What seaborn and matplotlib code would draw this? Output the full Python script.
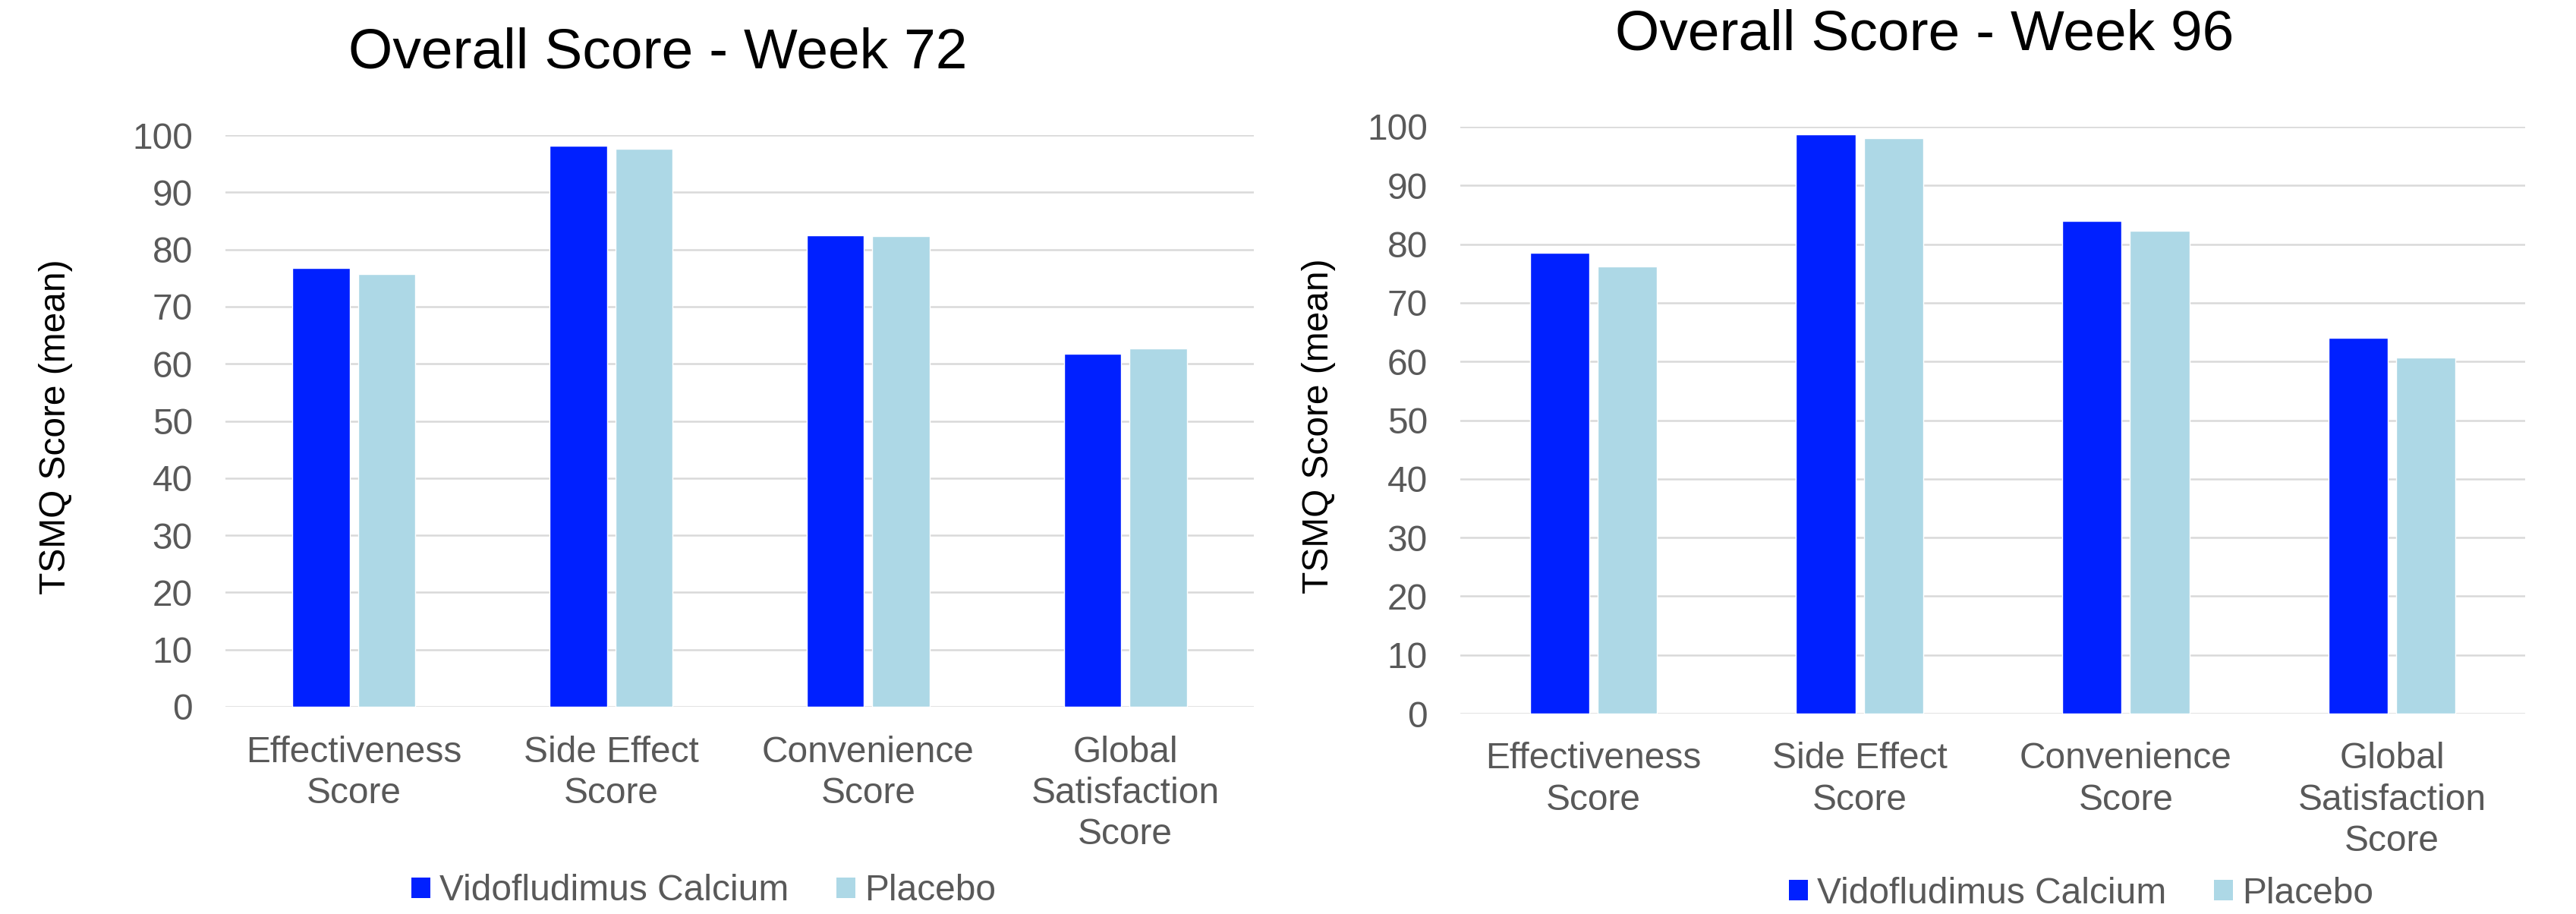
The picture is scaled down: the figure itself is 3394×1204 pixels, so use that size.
import matplotlib
matplotlib.use("Agg")
import matplotlib.pyplot as plt
import seaborn as sns
import pandas as pd
from matplotlib.patches import Patch

# TSMQ domain scores (mean) by treatment arm
categories = ["Effectiveness\nScore", "Side Effect\nScore", "Convenience\nScore",
              "Global\nSatisfaction\nScore"]
groups = ["Vidofludimus Calcium", "Placebo"]
week72_vido = [76.7, 98.2, 82.5, 61.8]
week72_placebo = [75.7, 97.6, 82.3, 62.7]
week96_vido = [78.5, 98.7, 83.9, 64.0]
week96_placebo = [76.2, 98.0, 82.3, 60.7]
y_ticks = list(range(0, 101, 10))

titles = ["Overall Score - Week 72", "Overall Score - Week 96"]
colors = ["#0020FF", "#ADD8E6"]
TEXT_GREY = "#595959"
GRID_GREY = "#D9D9D9"


def long_table(vido, placebo):
    rows = []
    for cat, v in zip(categories, vido):
        rows.append({"category": cat, "group": groups[0], "score": v})
    for cat, v in zip(categories, placebo):
        rows.append({"category": cat, "group": groups[1], "score": v})
    return pd.DataFrame(rows)


sns.set_theme(style="whitegrid")
plt.rcParams["font.family"] = ["Liberation Sans", "DejaVu Sans"]

W, H = 3394, 1204
fig = plt.figure(figsize=(W / 100, H / 100), dpi=100)
fig.patch.set_facecolor("white")

# axes rectangles in pixels: (x0, x1, y_top, y_bottom)
boxes = [(297, 1652, 178, 931), (1924, 3327, 167, 940)]
ylabel_x = [74, 1738]
title_pos = [(867, 89), (2536, 65)]
legend_pos = [(927, 1174), (2742, 1177)]
datasets = [(week72_vido, week72_placebo), (week96_vido, week96_placebo)]

FS = 34.5

for i, (box, data) in enumerate(zip(boxes, datasets)):
    x0, x1, yt, yb = box
    ax = fig.add_axes([x0 / W, 1 - yb / H, (x1 - x0) / W, (yb - yt) / H])
    df = long_table(*data)
    sns.barplot(data=df, x="category", y="score", hue="group",
                hue_order=groups, order=categories, palette=colors,
                width=0.51, gap=0.125, saturation=1, legend=False,
                errorbar=None, ax=ax)
    ax.set_ylim(0, 100)
    ax.set_yticks(y_ticks)
    ax.set_xlim(-0.5, len(categories) - 0.5)
    for s in ax.spines.values():
        s.set_visible(False)
    ax.grid(axis="x", visible=False)
    ax.grid(axis="y", color=GRID_GREY, linewidth=1.8)
    ax.set_axisbelow(True)
    ax.tick_params(axis="y", length=0, pad=31, labelsize=FS, labelcolor=TEXT_GREY)
    ax.tick_params(axis="x", length=0, pad=27, labelsize=FS, labelcolor=TEXT_GREY)
    for lab in ax.get_xticklabels():
        lab.set_linespacing(1.27)
    ax.set_xlabel("")
    ax.set_ylabel("TSMQ Score (mean)", fontsize=FS, color="black", va="center")
    ax.yaxis.set_label_coords((ylabel_x[i] - x0) / (x1 - x0), 0.49)

    tx, ty = title_pos[i]
    fig.text(tx / W, 1 - ty / H, titles[i], ha="center", va="baseline",
             fontsize=54, color="black")

    handles = [Patch(facecolor=c, edgecolor="none") for c in colors]
    lx, ly = legend_pos[i]
    fig.legend(handles, groups, loc="center", bbox_to_anchor=(lx / W, 1 - ly / H),
               ncol=2, frameon=False, fontsize=FS, labelcolor=TEXT_GREY,
               handlelength=0.52, handleheight=0.52, handletextpad=0.25,
               columnspacing=1.3, borderpad=0, borderaxespad=0)

fig.savefig("out.png", dpi=100, facecolor="white")
